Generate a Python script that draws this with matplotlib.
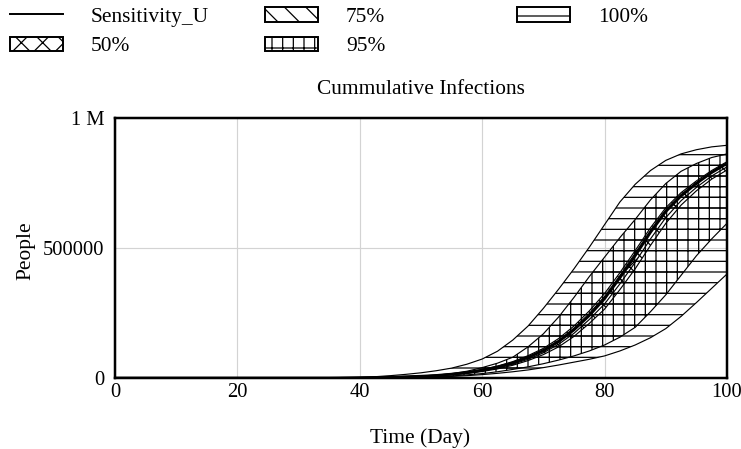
import numpy as np
import matplotlib
matplotlib.use("Agg")
import matplotlib.pyplot as plt
import matplotlib.patches as mpatches
from matplotlib.lines import Line2D

# Simulation time (days) and sensitivity envelopes of cumulative infections (millions of people)
days = [0, 10, 20, 30, 35, 40, 42.5, 45, 47.5, 50, 52.5, 55, 57.5, 60, 62.5, 65, 67.5,
        70, 72.5, 75, 77.5, 80, 82.5, 85, 87.5, 90, 92.5, 95, 97.5, 100]

upper_100 = [0, 0, 0, 0, 0.001, 0.003, 0.005, 0.009, 0.014, 0.020, 0.028, 0.038, 0.053, 0.073,
             0.103, 0.146, 0.200, 0.268, 0.342, 0.420, 0.503, 0.590, 0.677, 0.745, 0.798,
             0.837, 0.862, 0.878, 0.889, 0.895]
lower_100 = [0, 0, 0, 0, 0, 0, 0.001, 0.001, 0.002, 0.003, 0.004, 0.006, 0.009, 0.013,
             0.018, 0.024, 0.031, 0.040, 0.050, 0.061, 0.072, 0.085, 0.104, 0.127, 0.155,
             0.190, 0.237, 0.290, 0.345, 0.400]
upper_95 = [0, 0, 0, 0, 0, 0.002, 0.003, 0.004, 0.006, 0.008, 0.011, 0.017, 0.026, 0.040,
            0.057, 0.080, 0.120, 0.170, 0.235, 0.310, 0.390, 0.465, 0.540, 0.610, 0.685,
            0.748, 0.795, 0.825, 0.848, 0.862]
lower_95 = [0, 0, 0, 0, 0, 0, 0.001, 0.001, 0.002, 0.003, 0.005, 0.008, 0.012, 0.017,
            0.024, 0.033, 0.043, 0.055, 0.069, 0.085, 0.104, 0.127, 0.157, 0.195, 0.255,
            0.320, 0.395, 0.470, 0.535, 0.595]
upper_75 = [0, 0, 0, 0, 0, 0.001, 0.002, 0.003, 0.005, 0.008, 0.011, 0.016, 0.023, 0.033,
            0.046, 0.063, 0.086, 0.114, 0.152, 0.200, 0.258, 0.325, 0.405, 0.490, 0.578,
            0.655, 0.713, 0.758, 0.798, 0.832]
lower_75 = [0, 0, 0, 0, 0, 0.001, 0.001, 0.002, 0.004, 0.005, 0.008, 0.012, 0.017, 0.025,
            0.035, 0.049, 0.067, 0.090, 0.120, 0.160, 0.210, 0.265, 0.340, 0.420, 0.510,
            0.595, 0.665, 0.720, 0.765, 0.800]
upper_50 = [0, 0, 0, 0, 0, 0.001, 0.002, 0.003, 0.005, 0.007, 0.010, 0.015, 0.022, 0.031,
            0.044, 0.060, 0.082, 0.109, 0.145, 0.192, 0.248, 0.314, 0.394, 0.480, 0.568,
            0.647, 0.706, 0.752, 0.793, 0.828]
lower_50 = [0, 0, 0, 0, 0, 0.001, 0.002, 0.003, 0.004, 0.006, 0.009, 0.013, 0.019, 0.027,
            0.038, 0.053, 0.072, 0.097, 0.130, 0.172, 0.225, 0.285, 0.362, 0.445, 0.535,
            0.617, 0.682, 0.733, 0.777, 0.812]
sensitivity_u = [0, 0, 0, 0, 0, 0.001, 0.002, 0.003, 0.005, 0.007, 0.010, 0.015, 0.021, 0.030,
                 0.042, 0.058, 0.079, 0.105, 0.140, 0.185, 0.240, 0.305, 0.385, 0.470, 0.560,
                 0.640, 0.700, 0.748, 0.790, 0.825]

x_ticks = [0, 20, 40, 60, 80, 100]
y_ticks = [0, 500000, 1000000]
y_tick_labels = ["0", "500000", "1 M"]

bands = [
    ("100%", upper_100, lower_100, "-"),
    ("95%", upper_95, lower_95, "+"),
    ("75%", upper_75, lower_75, "\\"),
    ("50%", upper_50, lower_50, "x"),
]

DPI = 64
W, H = 741, 449
FS = 24  # points at 64 dpi
TICK_FS = 23

plt.rcParams["font.family"] = ["Liberation Serif", "DejaVu Serif"]
plt.rcParams["hatch.linewidth"] = 1.4
plt.rcParams["hatch.color"] = "black"

fig = plt.figure(figsize=(W / DPI, H / DPI), dpi=DPI)
ax = fig.add_axes([115 / W, 1 - 378 / H, (727 - 115) / W, (378 - 118) / H])

t = np.array(days)
for name, up, lo, hatch in bands:
    up = np.array(up) * 1e6
    lo = np.array(lo) * 1e6
    ax.fill_between(t, lo, up, facecolor="none", edgecolor="black",
                    hatch=hatch, linewidth=0, zorder=2)
    ax.plot(t, up, color="black", lw=1.3, zorder=3)
    ax.plot(t, lo, color="black", lw=1.3, zorder=3)

ax.plot(t, np.array(sensitivity_u) * 1e6, color="black", lw=3.0, zorder=4)

ax.set_xlim(0, 100)
ax.set_ylim(0, 1e6)
ax.set_xticks(x_ticks)
ax.set_xticklabels([str(v) for v in x_ticks])
ax.set_yticks(y_ticks)
ax.set_yticklabels(y_tick_labels)
ax.tick_params(length=0, labelsize=TICK_FS, colors="black")
ax.tick_params(axis="x", pad=6)
ax.tick_params(axis="y", pad=12)
ax.grid(True, color="#d3d3d3", lw=1.3, zorder=0)
ax.set_axisbelow(True)
for s in ax.spines.values():
    s.set_linewidth(2.8)
    s.set_color("black")
    s.set_zorder(5)

ax.set_title("Cummulative Infections", fontsize=FS, pad=27)
ax.set_xlabel("Time (Day)", fontsize=FS)
ax.xaxis.set_label_coords(0.498, -0.195)
ax.set_ylabel("People", fontsize=FS)
ax.yaxis.set_label_coords(-0.13, 0.49)

# Legend laid out in three fixed-width columns
line_handle = Line2D([], [], color="black", lw=2.2)

def box(h):
    return mpatches.Patch(facecolor="white", edgecolor="black", hatch=h, linewidth=2.2)

columns = [
    ([line_handle, box("x")], ["Sensitivity_U", "50%"], 10),
    ([box("\\"), box("+")], ["75%", "95%"], 265),
    ([box("-")], ["100%"], 517),
]
for handles, labels, x0 in columns:
    fig.legend(handles, labels, loc="upper left",
               bbox_to_anchor=(x0 / W, 1 - 7 / H), frameon=False,
               fontsize=FS, handlelength=2.5, handleheight=0.7,
               handletextpad=1.3, labelspacing=0.45, borderpad=0,
               borderaxespad=0)

fig.savefig("out.png", dpi=DPI)
